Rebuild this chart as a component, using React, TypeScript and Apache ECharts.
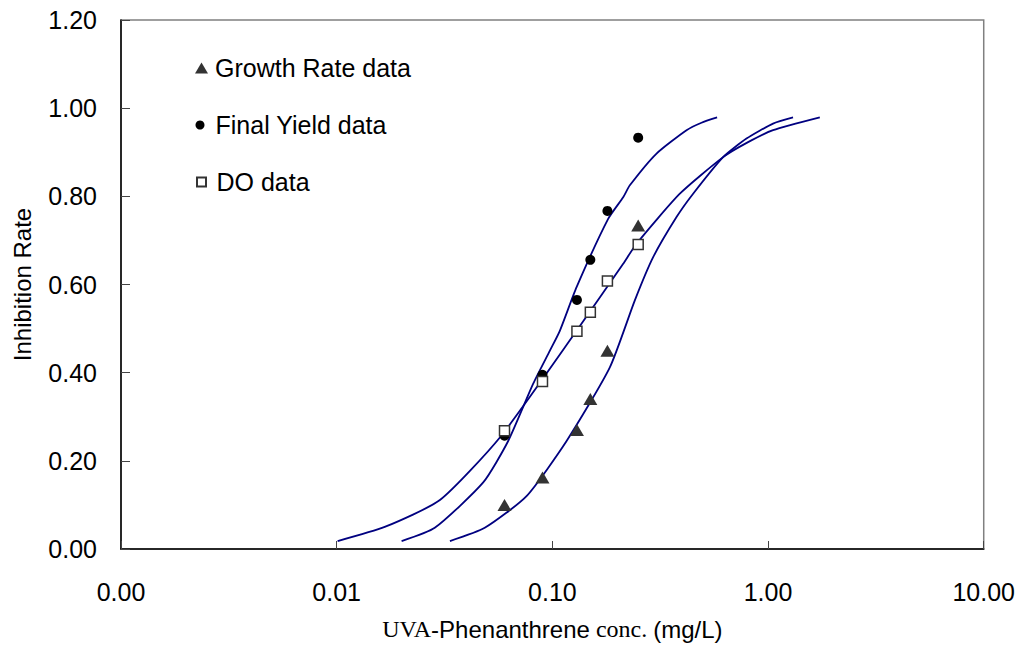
import React, { useEffect, useRef } from "react";
import * as echarts from "echarts";

// Concentrations (mg/L) of measured points
const concentrations = [0.06, 0.09, 0.13, 0.15, 0.18, 0.25];
// Measured inhibition rates
const growthRateData = [0.1, 0.162, 0.27, 0.34, 0.45, 0.734];
const finalYieldData = [0.257, 0.395, 0.565, 0.656, 0.767, 0.933];
const doData = [0.268, 0.38, 0.494, 0.537, 0.608, 0.691];

// Fitted curves
const doFitX = [0.0101, 0.0167, 0.0301, 0.0571, 0.1295, 0.213, 0.2456, 0.39, 0.619, 0.808, 1.055, 1.738];
const doFitY = [0.018, 0.05, 0.111, 0.253, 0.495, 0.647, 0.6925, 0.806, 0.889, 0.923, 0.95, 0.979];
const fyFitX = [0.02, 0.0285, 0.0478, 0.0624, 0.0815, 0.0974, 0.1083, 0.1295, 0.1814, 0.213, 0.2287, 0.3041, 0.4188, 0.4914, 0.5806];
const fyFitY = [0.018, 0.048, 0.151, 0.245, 0.375, 0.45, 0.495, 0.594, 0.749, 0.798, 0.825, 0.897, 0.95, 0.967, 0.979];
const grFitX = [0.0335, 0.0486, 0.0759, 0.1164, 0.1847, 0.2412, 0.2933, 0.3764, 0.4494, 0.619, 0.7945, 1.055, 1.306];
const grFitY = [0.018, 0.048, 0.12, 0.245, 0.412, 0.564, 0.662, 0.753, 0.806, 0.889, 0.931, 0.965, 0.979];

const seriesNames = ["Growth Rate data", "Final Yield data", "DO data"];
const yAxisTitle = "Inhibition Rate";

const zip = (xs: number[], ys: number[]) => xs.map((x, i) => [x, ys[i]]);

const SANS = "'Liberation Sans', Arial, sans-serif";
const SERIF = "'Liberation Serif', 'Times New Roman', serif";

export default function App() {
  const ref = useRef<HTMLDivElement>(null);
  useEffect(() => {
    if (!ref.current) return;
    const chart = echarts.init(ref.current, null, { renderer: "svg" });
    const lineColor = "#000080";
    const legendText = { fontSize: 25, color: "#000", fontFamily: SANS, lineHeight: 26 };
    chart.setOption({
      animation: false,
      backgroundColor: "#fff",
      grid: {
        left: 121,
        right: 34,
        top: 20,
        bottom: 107,
        show: true,
        borderColor: "#808080",
        borderWidth: 1.5,
        backgroundColor: "transparent",
      },
      legend: [
        {
          data: [seriesNames[0]],
          orient: "vertical",
          left: 190,
          top: 50,
          itemWidth: 13,
          itemHeight: 11,
          textStyle: { ...legendText, padding: [0, 0, 0, 2] },
          selectedMode: false,
        },
        {
          data: [seriesNames[1]],
          orient: "vertical",
          left: 190.5,
          top: 107,
          itemWidth: 9,
          itemHeight: 9,
          textStyle: { ...legendText, padding: [0, 0, 0, 6] },
          selectedMode: false,
        },
        {
          data: [seriesNames[2]],
          orient: "vertical",
          left: 191,
          top: 164,
          itemWidth: 9,
          itemHeight: 9,
          textStyle: { ...legendText, padding: [0, 0, 0, 5.5] },
          selectedMode: false,
        },
      ],
      xAxis: {
        type: "log",
        logBase: 10,
        min: 0.001,
        max: 10,
        name: `{s|UVA}{a|-Phenanthrene}{s| conc. }{a|(mg/L)}`,
        nameLocation: "middle",
        nameGap: 68,
        nameTextStyle: {
          fontSize: 24,
          color: "#000",
          rich: {
            s: { fontSize: 24, fontFamily: SERIF, color: "#000" },
            a: { fontSize: 24, fontFamily: SANS, color: "#000" },
          },
        },
        axisLine: { show: true, lineStyle: { color: "#000", width: 1.5 } },
        axisTick: { show: true, inside: true, length: 8, lineStyle: { color: "#444", width: 1 } },
        minorTick: { show: false },
        splitLine: { show: false },
        axisLabel: {
          fontSize: 25,
          color: "#000",
          fontFamily: SANS,
          margin: 30,
          formatter: (v: number) => v.toFixed(2),
        },
      },
      yAxis: {
        type: "value",
        min: 0,
        max: 1.2,
        interval: 0.2,
        name: yAxisTitle,
        nameLocation: "middle",
        nameGap: 87,
        nameTextStyle: { fontSize: 24, color: "#000", fontFamily: SANS },
        axisLine: { show: true, lineStyle: { color: "#000", width: 1.5 } },
        axisTick: { show: true, inside: true, length: 9, lineStyle: { color: "#444", width: 1 } },
        splitLine: { show: false },
        axisLabel: {
          fontSize: 25,
          color: "#000",
          fontFamily: SANS,
          margin: 24,
          formatter: (v: number) => v.toFixed(2),
        },
      },
      series: [
        {
          name: "DO fit",
          type: "line",
          data: zip(doFitX, doFitY),
          showSymbol: false,
          smooth: 0.2,
          lineStyle: { color: lineColor, width: 1.8 },
          z: 2,
        },
        {
          name: "Final Yield fit",
          type: "line",
          data: zip(fyFitX, fyFitY),
          showSymbol: false,
          smooth: 0.2,
          lineStyle: { color: lineColor, width: 1.8 },
          z: 2,
        },
        {
          name: "Growth Rate fit",
          type: "line",
          data: zip(grFitX, grFitY),
          showSymbol: false,
          smooth: 0.2,
          lineStyle: { color: lineColor, width: 1.8 },
          z: 2,
        },
        {
          name: seriesNames[0],
          type: "scatter",
          data: zip(concentrations, growthRateData),
          symbol: "triangle",
          symbolSize: [14, 12],
          itemStyle: { color: "#333", opacity: 1 },
          z: 3,
        },
        {
          name: seriesNames[1],
          type: "scatter",
          data: zip(concentrations, finalYieldData),
          symbol: "circle",
          symbolSize: 10,
          itemStyle: { color: "#000", opacity: 1 },
          z: 3,
        },
        {
          name: seriesNames[2],
          type: "scatter",
          data: zip(concentrations, doData),
          symbol: "rect",
          symbolSize: 10,
          itemStyle: { color: "#fff", borderColor: "#333", borderWidth: 1.5, opacity: 1 },
          z: 4,
        },
      ],
    });
    return () => chart.dispose();
  }, []);
  return (
    <div
      ref={ref}
      style={{ position: "fixed", left: 0, top: 0, width: 1018, height: 656, background: "#fff" }}
    />
  );
}
